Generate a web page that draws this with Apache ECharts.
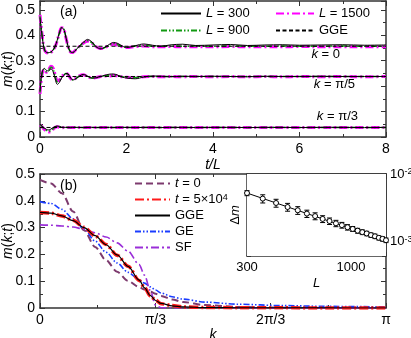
<!DOCTYPE html>
<html lang="en">
<head>
    <meta charset="UTF-8">
    <title>m(k;t)</title>
    <style>
        html, body { margin: 0; padding: 0; background: #fff; }
    </style>
</head>
<body>
<div id="main" style="width: 411px;height:338px;"></div>
<script src="https://cdn.jsdelivr.net/npm/echarts@6/dist/echarts.min.js"></script>
<script>
    // ---- panel (a): m(k;t) vs t/L ----
    var tL = [0, 0.05, 0.1, 0.15, 0.2, 0.25, 0.3, 0.35, 0.4, 0.45, 0.5, 0.55, 0.6, 0.65, 0.7, 0.75, 0.8, 0.9, 1.0, 1.1,
        1.2, 1.3, 1.4, 1.5, 1.6, 1.7, 1.8, 1.9, 2.0, 2.2, 2.4, 2.6, 2.8, 3.0, 3.3, 3.6, 4.0, 4.4, 4.8, 5.2,
        5.6, 6.0, 6.5, 7.0, 7.5, 8.0];

    // k = 0
    var k0_L300 = [0.47, 0.395, 0.345, 0.333, 0.332, 0.334, 0.342, 0.357, 0.382, 0.41, 0.43, 0.424, 0.392, 0.356, 0.336, 0.332, 0.337, 0.356, 0.372, 0.384,
        0.374, 0.355, 0.347, 0.353, 0.364, 0.372, 0.368, 0.358, 0.352, 0.359, 0.366, 0.361, 0.357, 0.362, 0.365, 0.36, 0.362, 0.364, 0.36, 0.362,
        0.363, 0.361, 0.362, 0.363, 0.361, 0.362];
    var k0_L900 = [0.475, 0.398, 0.345, 0.332, 0.331, 0.333, 0.341, 0.356, 0.381, 0.41, 0.43, 0.425, 0.391, 0.356, 0.336, 0.332, 0.338, 0.355, 0.37, 0.379,
        0.371, 0.355, 0.348, 0.352, 0.362, 0.368, 0.363, 0.356, 0.353, 0.358, 0.36, 0.357, 0.357, 0.358, 0.357, 0.358, 0.357, 0.358, 0.357, 0.357,
        0.358, 0.357, 0.357, 0.358, 0.357, 0.357];
    var k0_L1500 = [0.48, 0.4, 0.345, 0.332, 0.33, 0.333, 0.34, 0.355, 0.38, 0.41, 0.43, 0.425, 0.39, 0.355, 0.335, 0.332, 0.338, 0.355, 0.369, 0.377,
        0.37, 0.355, 0.348, 0.352, 0.361, 0.366, 0.361, 0.355, 0.352, 0.356, 0.358, 0.355, 0.355, 0.356, 0.355, 0.355, 0.355, 0.356, 0.355, 0.355,
        0.355, 0.356, 0.355, 0.355, 0.355, 0.355];
    // k = pi/5
    var k1_L300 = [0.18, 0.255, 0.27, 0.262, 0.26, 0.268, 0.258, 0.23, 0.207, 0.215, 0.232, 0.242, 0.25, 0.248, 0.235, 0.225, 0.226, 0.238, 0.246, 0.24,
        0.232, 0.233, 0.238, 0.243, 0.247, 0.248, 0.243, 0.236, 0.232, 0.229, 0.236, 0.24, 0.239, 0.237, 0.239, 0.238, 0.239, 0.238, 0.237, 0.239,
        0.238, 0.238, 0.239, 0.238, 0.238, 0.238];
    var k1_L900 = [0.175, 0.252, 0.267, 0.257, 0.262, 0.274, 0.268, 0.24, 0.217, 0.221, 0.236, 0.244, 0.25, 0.246, 0.233, 0.225, 0.227, 0.239, 0.245, 0.239,
        0.232, 0.234, 0.238, 0.241, 0.241, 0.243, 0.241, 0.237, 0.235, 0.234, 0.237, 0.238, 0.238, 0.238, 0.238, 0.238, 0.238, 0.238, 0.238, 0.238,
        0.238, 0.238, 0.238, 0.238, 0.238, 0.238];
    var k1_L1500 = [0.17, 0.25, 0.265, 0.255, 0.265, 0.278, 0.272, 0.245, 0.222, 0.225, 0.238, 0.245, 0.25, 0.245, 0.232, 0.225, 0.228, 0.24, 0.245, 0.238,
        0.232, 0.234, 0.238, 0.24, 0.24, 0.242, 0.24, 0.237, 0.235, 0.234, 0.237, 0.238, 0.237, 0.238, 0.237, 0.238, 0.237, 0.238, 0.237, 0.238,
        0.237, 0.238, 0.237, 0.238, 0.237, 0.238];
    // k = pi/3
    var k2_L300 = [0.05, 0.042, 0.035, 0.03, 0.028, 0.031, 0.037, 0.041, 0.043, 0.042, 0.039, 0.038, 0.038, 0.038, 0.037, 0.038, 0.038, 0.038, 0.037, 0.038,
        0.038, 0.037, 0.038, 0.038, 0.038, 0.037, 0.038, 0.038, 0.038, 0.037, 0.038, 0.038, 0.037, 0.038, 0.038, 0.037, 0.038, 0.038, 0.037, 0.038,
        0.038, 0.037, 0.038, 0.038, 0.037, 0.038];
    var k2_L900 = [0.049, 0.041, 0.032, 0.026, 0.023, 0.025, 0.032, 0.039, 0.041, 0.039, 0.037, 0.037, 0.038, 0.037, 0.037, 0.037, 0.038, 0.037, 0.037, 0.037,
        0.037, 0.037, 0.037, 0.037, 0.037, 0.037, 0.037, 0.037, 0.037, 0.037, 0.037, 0.037, 0.037, 0.037, 0.037, 0.037, 0.037, 0.037, 0.037, 0.037,
        0.037, 0.037, 0.037, 0.037, 0.037, 0.037];
    var k2_L1500 = [0.048, 0.04, 0.03, 0.024, 0.02, 0.021, 0.03, 0.038, 0.04, 0.038, 0.036, 0.037, 0.037, 0.037, 0.037, 0.037, 0.037, 0.037, 0.037, 0.037,
        0.037, 0.037, 0.037, 0.037, 0.037, 0.037, 0.037, 0.037, 0.037, 0.037, 0.037, 0.037, 0.037, 0.037, 0.037, 0.037, 0.037, 0.037, 0.037, 0.037,
        0.037, 0.037, 0.037, 0.037, 0.037, 0.037];
    var gge_a = [0.357, 0.238, 0.0375];

    // ---- panel (b): m(k) vs k ----
    var kGrid = [0, 0.1, 0.2, 0.3, 0.4, 0.5, 0.6, 0.7, 0.8, 0.9, 0.95, 1.0, 1.05, 1.1, 1.2, 1.3, 1.5, 1.8, 2.2, 2.6, 3.1416];
    var m_t0 = [0.478, 0.465, 0.428, 0.36, 0.29, 0.228, 0.178, 0.135, 0.101, 0.078, 0.069, 0.061, 0.053, 0.045, 0.032, 0.022, 0.011, 0.004, 0.001, 0.0003, 0];
    var m_t5e4 = [0.356, 0.354, 0.343, 0.327, 0.301, 0.269, 0.237, 0.197, 0.156, 0.103, 0.076, 0.046, 0.029, 0.016, 0.009, 0.004, 0.002, 0.001, 0.0005, 0.0003, 0.0002];
    var m_gge = [0.357, 0.354, 0.344, 0.326, 0.3, 0.27, 0.236, 0.198, 0.155, 0.104, 0.075, 0.047, 0.028, 0.017, 0.008, 0.004, 0.0015, 0.0006, 0.0002, 0.0001, 0];
    var m_ge = [0.397, 0.39, 0.368, 0.333, 0.295, 0.25, 0.208, 0.168, 0.133, 0.106, 0.093, 0.079, 0.067, 0.056, 0.042, 0.033, 0.022, 0.014, 0.009, 0.006, 0.004];
    var m_sf = [0.31, 0.309, 0.306, 0.302, 0.294, 0.281, 0.265, 0.243, 0.212, 0.162, 0.122, 0.066, 0.01, 0.001, 0, 0, 0, 0, 0, 0, 0];

    // ---- inset: Delta m vs L ----
    var Ls = [300, 360, 420, 480, 540, 600, 660, 720, 780, 840, 900, 960, 1020, 1080, 1140, 1200, 1260, 1320, 1380, 1440, 1500];
    var dm = [5.2e-3, 4.3e-3, 3.7e-3, 3.22e-3, 2.88e-3, 2.57e-3, 2.36e-3, 2.14e-3, 1.99e-3, 1.84e-3, 1.73e-3, 1.61e-3, 1.52e-3,
        1.43e-3, 1.36e-3, 1.3e-3, 1.23e-3, 1.18e-3, 1.12e-3, 1.08e-3, 1.03e-3];
    var dmErr = [0.45e-3, 0.6e-3, 0.5e-3, 0.43e-3, 0.38e-3, 0.32e-3, 0.28e-3, 0.25e-3, 0.22e-3, 0.2e-3, 0.17e-3, 0.15e-3, 0.13e-3,
        0.12e-3, 0.11e-3, 0.1e-3, 0.09e-3, 0.09e-3, 0.08e-3, 0.08e-3, 0.08e-3];
    var fitL = [300, 1500];
    var fitDm = [5.2e-3, 1.02e-3];

    var FONT = 'Liberation Sans';
    var AX = '#333';

    function zip(xs, ys) {
        return xs.map(function (x, i) { return [x, ys[i]]; });
    }

    function boxAxis(gridIndex, pos, extra) {
        var a = {
            gridIndex: gridIndex, position: pos, type: 'value',
            axisLine: {show: true, onZero: false, lineStyle: {color: AX, width: 1.5}},
            axisTick: {show: true, inside: true, length: 5, lineStyle: {color: AX}},
            minorTick: {show: true, splitNumber: 2, length: 3, lineStyle: {color: AX}},
            axisLabel: {show: false},
            splitLine: {show: false}
        };
        for (var key in extra) a[key] = extra[key];
        return a;
    }

    var rich = {
        i: {fontFamily: FONT, fontStyle: 'italic', fontSize: 14, color: '#000'},
        n: {fontFamily: FONT, fontSize: 14, color: '#000'},
        s: {fontFamily: FONT, fontSize: 9, color: '#000', verticalAlign: 'top'}
    };
    var richL = {
        i: {fontFamily: FONT, fontStyle: 'italic', fontSize: 13, color: '#000'},
        n: {fontFamily: FONT, fontSize: 13, color: '#000'},
        s: {fontFamily: FONT, fontSize: 9, color: '#000', verticalAlign: 'top'}
    };

    var aFmt = function (v) {
        var r = Math.round(v * 10);
        if (Math.abs(v * 10 - r) > 1e-6) return '';
        return r === 0 ? '0' : (r / 10).toFixed(1);
    };
    var kFmt = function (v) {
        var n = Math.round(v / (Math.PI / 3));
        return ['0', '\u03c0/3', '2\u03c0/3', '\u03c0'][n] || '';
    };

    var labelStyle = {show: true, fontFamily: FONT, fontSize: 14, color: '#000', margin: 5};

    var xAxes = [
        boxAxis(0, 'bottom', {min: 0, max: 8, interval: 2,
            axisLabel: labelStyle,
            name: '{i|t}{i|/L}', nameLocation: 'middle', nameGap: 21,
            nameTextStyle: {rich: rich}}),
        boxAxis(0, 'top', {min: 0, max: 8, interval: 2}),
        boxAxis(1, 'bottom', {min: 0, max: Math.PI, interval: Math.PI / 3,
            axisLabel: Object.assign({}, labelStyle, {formatter: kFmt}),
            name: '{i|k}', nameLocation: 'middle', nameGap: 20,
            nameTextStyle: {rich: rich}}),
        boxAxis(1, 'top', {min: 0, max: Math.PI, interval: Math.PI / 3}),
        {
            gridIndex: 2, type: 'log', position: 'bottom', min: 300, max: 1500, logBase: 10,
            axisLine: {show: true, onZero: false, lineStyle: {color: AX, width: 1.5}},
            axisTick: {show: true, inside: true, length: 4, lineStyle: {color: AX}},
            minorTick: {show: true, splitNumber: 7, length: 3, lineStyle: {color: AX}},
            axisLabel: {show: true, fontFamily: FONT, fontSize: 13, color: '#000', margin: 5,
                formatter: function (v) { return (Math.abs(v - 300) < 1 || Math.abs(v - 1000) < 1) ? Math.round(v) : ''; }},
            name: '{i|L}', nameLocation: 'middle', nameGap: 21, nameTextStyle: {rich: richL},
            splitLine: {show: false}
        },
        {
            gridIndex: 2, type: 'log', position: 'top', min: 300, max: 1500, logBase: 10,
            axisLine: {show: true, onZero: false, lineStyle: {color: AX, width: 1.5}},
            axisTick: {show: true, inside: true, length: 4, lineStyle: {color: AX}},
            minorTick: {show: true, splitNumber: 7, length: 3, lineStyle: {color: AX}},
            axisLabel: {show: false}, splitLine: {show: false}
        }
    ];

    var yName = '{i|m}{n|(}{i|k}{n|;}{i|t}{n|)}';
    var yAxes = [
        boxAxis(0, 'left', {min: 0, max: 0.535, interval: 0.1,
            axisLabel: Object.assign({}, labelStyle, {formatter: aFmt}),
            name: yName, nameLocation: 'middle', nameGap: 25, nameMoveOverlap: false,
            nameTextStyle: {rich: rich}}),
        boxAxis(0, 'right', {min: 0, max: 0.535, interval: 0.1}),
        boxAxis(1, 'left', {min: 0, max: 0.5, interval: 0.1,
            axisLabel: Object.assign({}, labelStyle, {formatter: aFmt}),
            name: yName, nameLocation: 'middle', nameGap: 25, nameMoveOverlap: false,
            nameTextStyle: {rich: rich}}),
        boxAxis(1, 'right', {min: 0, max: 0.5, interval: 0.1}),
        {
            gridIndex: 2, type: 'log', position: 'left', min: 6e-4, max: 1e-2, logBase: 10,
            axisLine: {show: true, onZero: false, lineStyle: {color: AX, width: 1.5}},
            axisTick: {show: true, inside: true, length: 4, lineStyle: {color: AX}},
            minorTick: {show: false},
            axisLabel: {show: false},
            name: '\u0394{i|m}', nameLocation: 'middle', nameGap: 5,
            nameTextStyle: {fontFamily: FONT, fontSize: 13, color: '#000', rich: richL},
            splitLine: {show: false}
        },
        {
            gridIndex: 2, type: 'log', position: 'right', min: 6e-4, max: 1e-2, logBase: 10,
            axisLine: {show: true, onZero: false, lineStyle: {color: AX, width: 1.5}},
            axisTick: {show: true, inside: true, length: 4, lineStyle: {color: AX}},
            minorTick: {show: false},
            axisLabel: {show: true, margin: 4,
                formatter: function (v) {
                    var lg = Math.log(v) / Math.LN10;
                    if (Math.abs(lg + 2) < 0.01) return '{n|10}{s|-2}';
                    if (Math.abs(lg + 3) < 0.01) return '{n|10}{s|-3}';
                    return '';
                },
                rich: richL},
            splitLine: {show: false}
        }
    ];

    var series = [];
    var sets = [[k0_L300, k0_L900, k0_L1500], [k1_L300, k1_L900, k1_L1500], [k2_L300, k2_L900, k2_L1500]];
    for (var j = 0; j < 3; j++) {
        series.push({
            name: 'L1500', type: 'line', xAxisIndex: 0, yAxisIndex: 0, symbol: 'none', smooth: 0.35,
            data: zip(tL, sets[j][2]), z: 2,
            lineStyle: {color: '#ff00ff', width: 3, type: [8, 3, 2, 3]}, itemStyle: {color: '#ff00ff'}
        });
        series.push({
            name: 'L900', type: 'line', xAxisIndex: 0, yAxisIndex: 0, symbol: 'none', smooth: 0.35,
            data: zip(tL, sets[j][1]), z: 3,
            lineStyle: {color: '#119911', width: 1.5, type: [6, 2, 1.5, 2, 1.5, 2]}, itemStyle: {color: '#119911'}
        });
        series.push({
            name: 'L300', type: 'line', xAxisIndex: 0, yAxisIndex: 0, symbol: 'none', smooth: 0.35,
            data: zip(tL, sets[j][0]), z: 4,
            lineStyle: {color: '#000', width: 1}, itemStyle: {color: '#000'}
        });
        series.push({
            name: 'GGEa', type: 'line', xAxisIndex: 0, yAxisIndex: 0, symbol: 'none',
            data: [[0, gge_a[j]], [8, gge_a[j]]], z: 5,
            lineStyle: {color: '#000', width: 1, type: [4, 2.5]}, itemStyle: {color: '#000'}
        });
    }

    var bCurves = [
        {name: 't0', data: m_t0, color: '#7d3a6e', width: 2, type: [7, 4], z: 2},
        {name: 't5e4', data: m_t5e4, color: '#ff1a1a', width: 3.5, type: [9, 3, 2, 3], z: 3},
        {name: 'GGEb', data: m_gge, color: '#000', width: 1.2, type: 'solid', z: 4},
        {name: 'GE', data: m_ge, color: '#1a3cff', width: 1.6, type: [6, 2, 1.5, 2, 1.5, 2], z: 2},
        {name: 'SF', data: m_sf, color: '#9a2ed8', width: 1.6, type: [8, 3, 2, 3], z: 2}
    ];
    bCurves.forEach(function (c) {
        series.push({
            name: c.name, type: 'line', xAxisIndex: 2, yAxisIndex: 2, symbol: 'none',
            smooth: 0.3, smoothMonotone: 'x', data: zip(kGrid, c.data), z: c.z,
            lineStyle: {color: c.color, width: c.width, type: c.type}, itemStyle: {color: c.color}
        });
    });

    // inset
    series.push({
        name: 'err', type: 'custom', xAxisIndex: 4, yAxisIndex: 4, z: 10,
        data: Ls.map(function (L, i) { return [L, dm[i] - dmErr[i], dm[i] + dmErr[i]]; }),
        renderItem: function (params, api) {
            var p1 = api.coord([api.value(0), api.value(2)]);
            var p2 = api.coord([api.value(0), api.value(1)]);
            var w = 2.5, st = {stroke: '#000', lineWidth: 1};
            return {
                type: 'group', children: [
                    {type: 'line', shape: {x1: p1[0], y1: p1[1], x2: p2[0], y2: p2[1]}, style: st},
                    {type: 'line', shape: {x1: p1[0] - w, y1: p1[1], x2: p1[0] + w, y2: p1[1]}, style: st},
                    {type: 'line', shape: {x1: p2[0] - w, y1: p2[1], x2: p2[0] + w, y2: p2[1]}, style: st}
                ]
            };
        }
    });
    series.push({
        name: 'fit', type: 'line', xAxisIndex: 4, yAxisIndex: 4, symbol: 'none', z: 11,
        data: zip(fitL, fitDm), lineStyle: {color: '#000', width: 1}
    });
    series.push({
        name: 'dm', type: 'scatter', xAxisIndex: 4, yAxisIndex: 4, z: 12,
        symbol: 'circle', symbolSize: 5,
        data: zip(Ls, dm),
        itemStyle: {color: '#fff', borderColor: '#000', borderWidth: 1, opacity: 1}
    });

    var legendLabels = {
        'L300': '{i|L}{n| = 300}',
        'L900': '{i|L}{n| = 900}',
        'L1500': '{i|L}{n| = 1500}',
        'GGEa': '{n|GGE}',
        't0': '{i|t}{n| = 0}',
        't5e4': '{i|t}{n| = 5\u00d710}{s|4}',
        'GGEb': '{n|GGE}',
        'GE': '{n|GE}',
        'SF': '{n|SF}'
    };
    function legendFmt(name) { return legendLabels[name]; }
    var legendBase = {
        orient: 'vertical', itemWidth: 40, itemHeight: 10, padding: 0, selectedMode: false,
        itemStyle: {color: 'transparent', borderColor: 'transparent', borderWidth: 0, opacity: 0},
        formatter: legendFmt, textStyle: {fontFamily: FONT, fontSize: 13, color: '#000', rich: richL}
    };

    var gridBase = {outerBoundsMode: 'none', containLabel: false};
    var myChart = echarts.init(document.getElementById('main'), null, {renderer: 'canvas'});
    var option = {
        backgroundColor: '#fff',
        animation: false,
        grid: [
            Object.assign({left: 40, right: 25, top: 1, height: 136}, gridBase),
            Object.assign({left: 40, right: 25, top: 174, height: 134}, gridBase),
            Object.assign({left: 247, right: 25, top: 174, height: 82, show: true, backgroundColor: '#fff',
                borderWidth: 0, z: 5}, gridBase)
        ],
        xAxis: xAxes,
        yAxis: yAxes,
        legend: [
            Object.assign({}, legendBase, {left: 160, top: 7, itemGap: 4, data: ['L300', 'L900']}),
            Object.assign({}, legendBase, {left: 275, top: 7, itemGap: 4, itemWidth: 38, data: ['L1500', 'GGEa']}),
            Object.assign({}, legendBase, {left: 134, top: 177, itemGap: 3, itemWidth: 35,
                data: ['t0', 't5e4', 'GGEb', 'GE', 'SF']})
        ],
        graphic: [
            {type: 'text', left: 60, top: 5, style: {text: '(a)', font: '14px "Liberation Sans"', fill: '#000'}},
            {type: 'text', left: 60, top: 179, style: {text: '(b)', font: '14px "Liberation Sans"', fill: '#000'}},
            {type: 'text', right: 71, top: 48, style: {text: '{i|k}{n| = 0}', rich: richL}},
            {type: 'text', right: 56, top: 78, style: {text: '{i|k}{n| = \u03c0/5}', rich: richL}},
            {type: 'text', right: 53, top: 110, style: {text: '{i|k}{n| = \u03c0/3}', rich: richL}}
        ],
        series: series
    };
    myChart.setOption(option);
</script>
</body>
</html>
